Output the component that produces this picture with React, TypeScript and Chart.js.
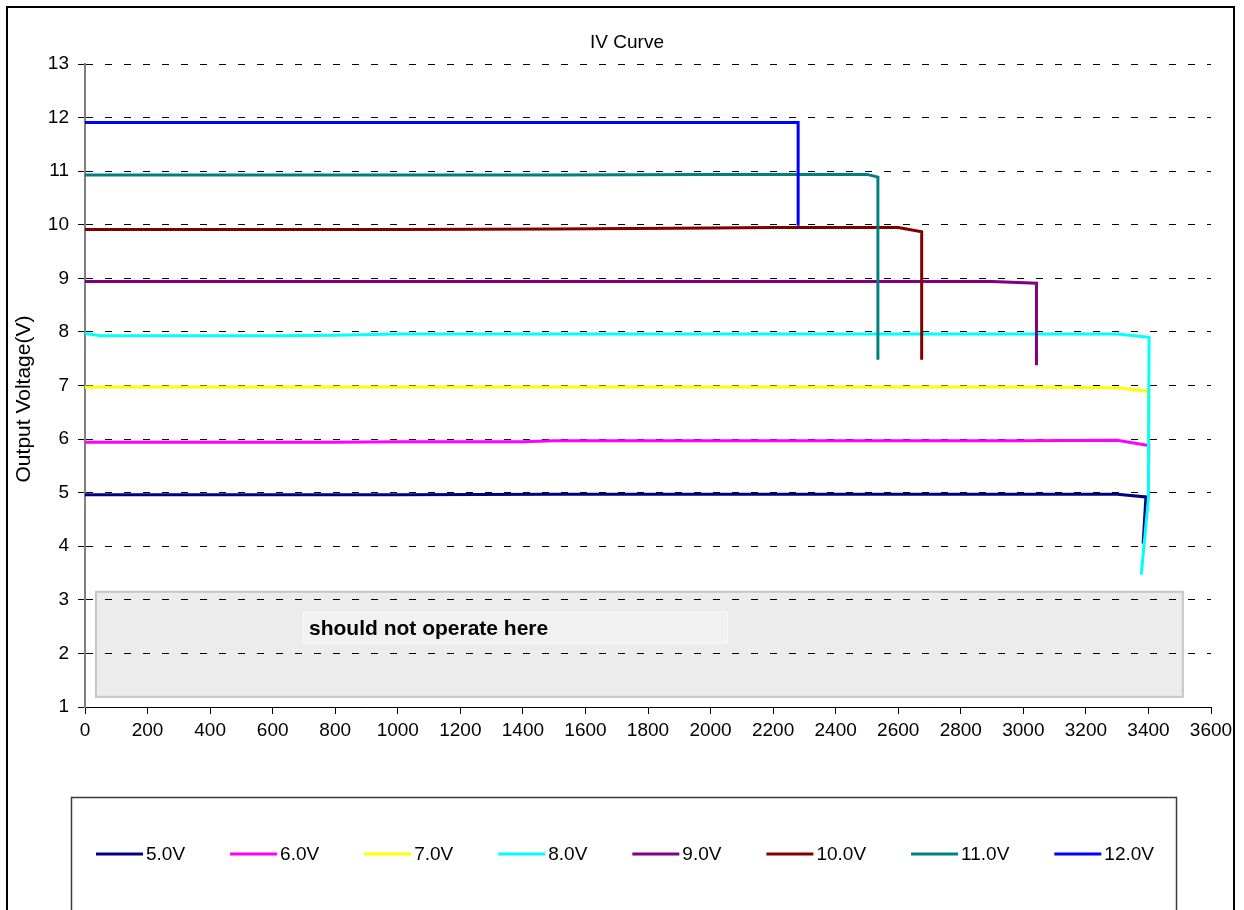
import React, { useEffect, useRef } from "react";
import { Chart, registerables } from "chart.js";

Chart.register(...registerables);

const FONT_FAMILY = "'Liberation Sans', Arial, Helvetica, sans-serif";

const chartTitle = "IV Curve";
const yAxisTitle = "Output Voltage(V)";
const zoneText = "should not operate here";

// axis ranges and tick steps
const xRange = [0, 3600];
const xStep = 200;
const yRange = [1, 13];
const yStep = 1;

const seriesNames = ["5.0V", "6.0V", "7.0V", "8.0V", "9.0V", "10.0V", "11.0V", "12.0V"];
const seriesColors = ["#000080", "#FF00FF", "#FFFF00", "#00FFFF", "#800080", "#800000", "#008080", "#0000FF"];

// output current (x) and output voltage (y) for each setting
const current5V = [0, 50, 100, 200, 400, 600, 800, 1000, 1500, 2000, 2500, 3000, 3300, 3392, 3383];
const voltage5V = [4.96, 4.96, 4.96, 4.96, 4.96, 4.96, 4.96, 4.96, 4.97, 4.97, 4.97, 4.97, 4.97, 4.92, 4.05];

const current6V = [0, 50, 100, 200, 400, 600, 800, 1000, 1400, 1500, 2000, 2500, 3000, 3300, 3401, 3400];
const voltage6V = [5.94, 5.94, 5.94, 5.94, 5.94, 5.94, 5.94, 5.95, 5.95, 5.97, 5.97, 5.97, 5.97, 5.98, 5.88, 4.95];

const current7V = [0, 50, 100, 200, 400, 600, 800, 1000, 1500, 2000, 2500, 3000, 3300, 3401, 3400];
const voltage7V = [6.97, 6.97, 6.97, 6.97, 6.97, 6.97, 6.97, 6.97, 6.97, 6.97, 6.97, 6.97, 6.96, 6.89, 5.5];

const current8V = [0, 50, 100, 200, 400, 600, 800, 1000, 1500, 2000, 2500, 3000, 3300, 3402, 3400, 3377];
const voltage8V = [7.97, 7.93, 7.93, 7.93, 7.93, 7.93, 7.94, 7.96, 7.96, 7.96, 7.96, 7.96, 7.96, 7.9, 4.9, 3.47];

const current9V = [0, 50, 100, 200, 400, 600, 800, 1000, 1500, 2000, 2500, 2900, 3042, 3042];
const voltage9V = [8.94, 8.94, 8.94, 8.94, 8.94, 8.94, 8.94, 8.94, 8.94, 8.94, 8.94, 8.94, 8.91, 7.38];

const current10V = [0, 50, 100, 200, 400, 600, 800, 1000, 1500, 2000, 2200, 2400, 2500, 2600, 2675, 2675];
const voltage10V = [9.91, 9.91, 9.91, 9.91, 9.91, 9.91, 9.91, 9.91, 9.92, 9.94, 9.95, 9.95, 9.95, 9.95, 9.87, 7.48];

const current11V = [0, 50, 100, 200, 400, 600, 800, 1000, 1500, 2000, 2200, 2400, 2500, 2535, 2535];
const voltage11V = [10.93, 10.93, 10.93, 10.93, 10.93, 10.93, 10.93, 10.93, 10.93, 10.94, 10.94, 10.94, 10.94, 10.89, 7.48];

const current12V = [0, 50, 100, 200, 400, 600, 800, 1000, 1500, 2000, 2200, 2280, 2280];
const voltage12V = [11.91, 11.91, 11.91, 11.91, 11.91, 11.91, 11.91, 11.91, 11.91, 11.91, 11.91, 11.91, 9.98];

const seriesCurrents = [current5V, current6V, current7V, current8V, current9V, current10V, current11V, current12V];
const seriesVoltages = [voltage5V, voltage6V, voltage7V, voltage8V, voltage9V, voltage10V, voltage11V, voltage12V];

// shaded "do not operate" region and its caption box, in data units
const forbiddenZone = { xMin: 35, xMax: 3510, yMin: 1.19, yMax: 3.15 };
const zoneCaption = { xMin: 697, xMax: 2052, yMin: 2.2, yMax: 2.78 };

const W = 1244;
const H = 910;

const zonePlugin = {
  id: "zone",
  beforeDraw(chart: any) {
    const { ctx, scales } = chart;
    const x = scales.x;
    const y = scales.y;
    ctx.save();
    const zx0 = x.getPixelForValue(forbiddenZone.xMin);
    const zx1 = x.getPixelForValue(forbiddenZone.xMax);
    const zy0 = y.getPixelForValue(forbiddenZone.yMax);
    const zy1 = y.getPixelForValue(forbiddenZone.yMin);
    ctx.fillStyle = "#ECECEC";
    ctx.fillRect(zx0, zy0, zx1 - zx0, zy1 - zy0);
    ctx.strokeStyle = "#C6C6C6";
    ctx.lineWidth = 2;
    ctx.strokeRect(zx0, zy0, zx1 - zx0, zy1 - zy0);

    const cx0 = x.getPixelForValue(zoneCaption.xMin);
    const cx1 = x.getPixelForValue(zoneCaption.xMax);
    const cy0 = y.getPixelForValue(zoneCaption.yMax);
    const cy1 = y.getPixelForValue(zoneCaption.yMin);
    ctx.fillStyle = "#F1F1F1";
    ctx.fillRect(cx0, cy0, cx1 - cx0, cy1 - cy0);
    ctx.strokeStyle = "#FAFAFA";
    ctx.lineWidth = 1;
    ctx.strokeRect(cx0 + 0.5, cy0 + 0.5, cx1 - cx0, cy1 - cy0);
    ctx.fillStyle = "#000";
    ctx.font = `bold 21px ${FONT_FAMILY}`;
    ctx.textAlign = "left";
    ctx.textBaseline = "middle";
    ctx.fillText(zoneText, cx0 + 6, (cy0 + cy1) / 2 + 2);
    ctx.restore();
  },
};

const framePlugin = {
  id: "frame",
  afterDraw(chart: any) {
    const { ctx } = chart;
    ctx.save();
    // outer chart border
    ctx.strokeStyle = "#000";
    ctx.lineWidth = 2;
    ctx.strokeRect(7, 7, 1227, 1000);

    // title
    ctx.fillStyle = "#000";
    ctx.font = `19px ${FONT_FAMILY}`;
    ctx.textAlign = "center";
    ctx.textBaseline = "middle";
    ctx.fillText(chartTitle, 627, 43);

    // vertical axis title
    ctx.save();
    ctx.translate(24, 399);
    ctx.rotate(-Math.PI / 2);
    ctx.font = `21px ${FONT_FAMILY}`;
    ctx.fillText(yAxisTitle, 0, 0);
    ctx.restore();

    // legend box
    ctx.strokeStyle = "#3A3A3A";
    ctx.lineWidth = 1.5;
    ctx.strokeRect(71.5, 797.5, 1105, 300);

    // legend entries
    const legendY = 854;
    let lx = 96;
    ctx.font = `19px ${FONT_FAMILY}`;
    ctx.textAlign = "left";
    chart.data.datasets.forEach((ds: any) => {
      ctx.strokeStyle = ds.borderColor;
      ctx.lineWidth = 3;
      ctx.beginPath();
      ctx.moveTo(lx, legendY);
      ctx.lineTo(lx + 47, legendY);
      ctx.stroke();
      ctx.fillStyle = "#000";
      ctx.fillText(ds.label, lx + 50, legendY + 1);
      lx += 50 + ctx.measureText(ds.label).width + 45;
    });
    ctx.restore();
  },
};

export default function App() {
  const canvasRef = useRef<HTMLCanvasElement | null>(null);

  useEffect(() => {
    const canvas = canvasRef.current;
    if (!canvas) return;

    const datasets = seriesNames.map((name, i) => ({
      label: name,
      data: seriesCurrents[i].map((c, k) => ({ x: c, y: seriesVoltages[i][k] })),
      borderColor: seriesColors[i],
      backgroundColor: seriesColors[i],
      borderWidth: 3,
      pointRadius: 0,
      showLine: true,
      tension: 0,
      fill: false,
      order: seriesNames.length - i,
    }));

    const tickFont = { family: FONT_FAMILY, size: 19 };

    const chart = new Chart(canvas, {
      type: "scatter",
      data: { datasets },
      plugins: [zonePlugin, framePlugin],
      options: {
        animation: false,
        responsive: false,
        devicePixelRatio: 1,
        layout: { padding: { left: 0, right: 33, top: 64, bottom: 0 } },
        plugins: {
          legend: { display: false },
          tooltip: { enabled: false },
          title: { display: false },
        },
        scales: {
          x: {
            type: "linear",
            min: xRange[0],
            max: xRange[1],
            ticks: {
              stepSize: xStep,
              color: "#000",
              font: tickFont,
              padding: 5,
              maxRotation: 0,
              autoSkip: false,
              callback: (value: any) => String(value),
            },
            grid: {
              drawOnChartArea: false,
              drawTicks: true,
              tickLength: 7,
              tickColor: "#000",
              tickWidth: 1,
            },
            border: { display: true, color: "#000", width: 1 },
            afterFit(scale: any) {
              scale.height = 203;
              scale.paddingLeft = 0;
              scale.paddingRight = 0;
            },
          },
          y: {
            type: "linear",
            min: yRange[0],
            max: yRange[1],
            ticks: {
              stepSize: yStep,
              color: "#000",
              font: tickFont,
              padding: 9,
              callback: (value: any) => String(value),
            },
            grid: {
              drawOnChartArea: true,
              color: "#000",
              lineWidth: 1,
              drawTicks: true,
              tickLength: 7,
              tickColor: "#000",
              tickWidth: 1,
            },
            border: { display: true, color: "#808080", width: 2, dash: [7, 12] },
            afterFit(scale: any) {
              scale.width = 85;
              scale.paddingTop = 0;
              scale.paddingBottom = 0;
            },
          },
        },
      },
    });

    return () => chart.destroy();
  }, []);

  return (
    <div style={{ position: "fixed", left: 0, top: 0, width: W, height: H, background: "#fff" }}>
      <canvas ref={canvasRef} width={W} height={H} style={{ display: "block", width: W, height: H }} />
    </div>
  );
}
